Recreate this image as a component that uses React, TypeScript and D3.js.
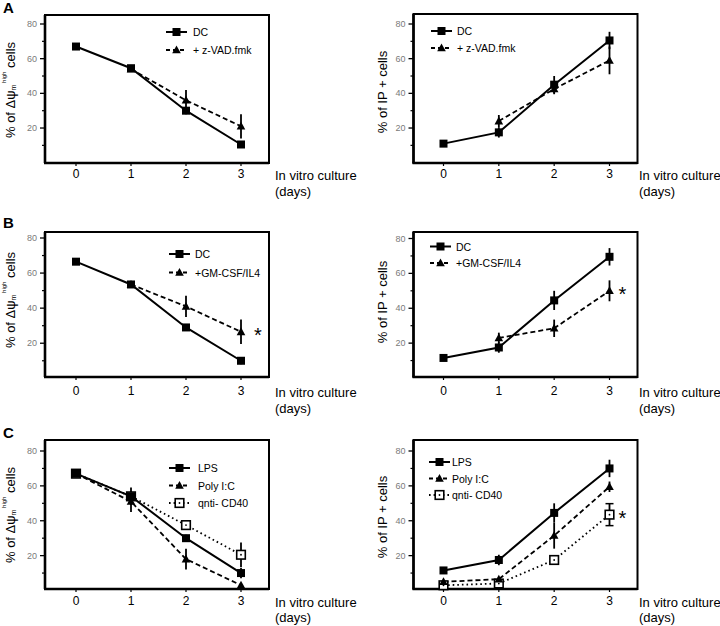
import React from "react";
import * as d3 from "d3";

// ---------- data ----------
const days = [0, 1, 2, 3];
const xTickLabels = ["0", "1", "2", "3"];
const yTicks = [20, 40, 60, 80];
const yMinorTicks = [10, 30, 50, 70];

// Panel A (mitochondrial potential / IP+)
const aMmpDC = [67, 54.5, 30, 10.5];
const aMmpDCErr = [1, 1.5, 2, 2];
const aMmpZvad = [NaN, 54, 36, 21];
const aMmpZvadErr = [0, 0, 6, 7];
const aIpDC = [11, 17.5, 45, 70.5];
const aIpDCErr = [1, 3, 5, 5];
const aIpZvad = [NaN, 24, 42.5, 59];
const aIpZvadErr = [0, 3.5, 3, 8];

// Panel B
const bMmpDC = [66.5, 53.5, 29, 10];
const bMmpDCErr = [1, 1.5, 1.5, 2];
const bMmpGM = [NaN, 53.5, 41, 26.5];
const bMmpGMErr = [0, 0, 6, 7];
const bIpDC = [11.5, 17.5, 44.5, 69.5];
const bIpDCErr = [1, 3, 5.5, 5];
const bIpGM = [NaN, 23, 28.5, 50];
const bIpGMErr = [0, 3, 5, 6];

// Panel C
const cMmpLPS = [67, 54, 30, 10];
const cMmpLPSErr = [1, 5, 2, 3];
const cMmpPoly = [67, 51, 18, 3];
const cMmpPolyErr = [0, 6, 6, 1];
const cMmpAnti = [67, 54, 37.5, 20.5];
const cMmpAntiErr = [0, 0, 2, 7];
const cIpLPS = [11.5, 17.5, 44.5, 70];
const cIpLPSErr = [1, 3, 5.5, 5];
const cIpPoly = [5, 6.5, 31.5, 59.5];
const cIpPolyErr = [1, 1, 7.5, 3];
const cIpAnti = [3, 4, 17.5, 43.5];
const cIpAntiErr = [1, 1, 2, 6.3];

const legendDC = "DC";
const legendZvad = "+ z-VAD.fmk";
const legendGM = "+GM-CSF/IL4";
const legendLPS = "LPS";
const legendPoly = "Poly I:C";
const legendAnti = "qnti- CD40";

// ---------- types ----------
type Series = {
  name: string;
  values: number[];
  errors: number[];
  style: "solid" | "dash" | "dot";
  marker: "square" | "triangle" | "open";
  caps?: boolean;
};

type Layout = {
  letter?: string;
  letterY?: number;
  l: number; r: number; t: number; b: number;
  x0: number; x3: number;
  yZero: number; y80: number;
  legX: number; legY: number; legDy: number; legTextX: number;
  ylabX: number; ylabY: number;
  ylabKind: "mmp" | "ip";
  tickY: number;
  titleX: number; titleY: number; title2Y: number;
  asterisk?: number; // index of series to mark at day 3
  asteriskDx?: number;
};

const FONT = "'Liberation Sans', Arial, sans-serif";

const dashFor = (s: Series["style"]) =>
  s === "solid" ? undefined : s === "dash" ? "5,3" : "1.6,3";

function Marker({ kind, x, y }: { kind: Series["marker"]; x: number; y: number }) {
  if (kind === "square") return <rect x={x - 4} y={y - 4} width={8} height={8} fill="#000" />;
  if (kind === "triangle")
    return <path d={`M${x},${y - 4.5}L${x + 4.3},${y + 3.3}L${x - 4.3},${y + 3.3}Z`} fill="#000" />;
  return (
    <g>
      <rect x={x - 4.3} y={y - 4.3} width={8.6} height={8.6} fill="#fff" stroke="#000" strokeWidth={1.6} />
      <circle cx={x} cy={y} r={0.9} fill="#000" />
    </g>
  );
}

function Panel({ L, series }: { L: Layout; series: Series[] }) {
  const x = d3.scaleLinear().domain([0, 3]).range([L.x0, L.x3]);
  const y = d3.scaleLinear().domain([0, 80]).range([L.yZero, L.y80]);
  const line = d3
    .line<number>()
    .defined((v) => !isNaN(v))
    .x((_, i) => x(days[i]))
    .y((v) => y(v));

  const ordered = [...series].map((s, i) => ({ s, i })).reverse();

  return (
    <g fontFamily={FONT}>
      {L.letter && (
        <text x={3} y={L.letterY} fontSize={15} fontWeight="bold">
          {L.letter}
        </text>
      )}
      {/* frame */}
      <rect x={L.l} y={L.t} width={L.r - L.l} height={L.b - L.t} fill="none" stroke="#000" strokeWidth={2} />
      <line x1={L.l} x2={L.l} y1={L.t} y2={L.b} stroke="#000" strokeWidth={2.6} />
      <line x1={L.l - 1} x2={L.r} y1={L.b} y2={L.b} stroke="#000" strokeWidth={2.6} />
      {/* y ticks */}
      {yTicks.map((v) => (
        <g key={v}>
          <line x1={L.l - 5} x2={L.l} y1={y(v)} y2={y(v)} stroke="#000" strokeWidth={1.3} />
          <text x={L.l - 8} y={y(v)} textAnchor="end" dominantBaseline="central" fontSize={9} fill="#7a7a7a">
            {v}
          </text>
        </g>
      ))}
      {yMinorTicks.map((v) => (
        <line key={v} x1={L.l - 3} x2={L.l} y1={y(v)} y2={y(v)} stroke="#000" strokeWidth={1.2} />
      ))}
      {/* x ticks */}
      {days.map((d, i) => (
        <g key={d}>
          <line x1={x(d)} x2={x(d)} y1={L.b} y2={L.b + 3} stroke="#000" strokeWidth={1.2} />
          <text x={x(d)} y={L.tickY} textAnchor="middle" dominantBaseline="central" fontSize={12}>
            {xTickLabels[i]}
          </text>
        </g>
      ))}
      <text x={L.titleX} y={L.titleY} fontSize={13}>In vitro culture</text>
      <text x={L.titleX} y={L.title2Y} fontSize={13}>(days)</text>
      {/* y label */}
      <text
        transform={`translate(${L.ylabX},${L.ylabY}) rotate(-90)`}
        textAnchor="middle"
        dominantBaseline="central"
        fontSize={13}
      >
        {L.ylabKind === "ip" ? (
          "% of IP + cells"
        ) : (
          <>
            {"% of \u0394\u03c8"}
            <tspan fontSize={7} dy={3}>m</tspan>
            <tspan fontSize={6} dy={-9}>{" high"}</tspan>
            <tspan dy={6}>{" cells"}</tspan>
          </>
        )}
      </text>
      {/* lines */}
      {ordered.map(({ s, i }) => (
        <path
          key={"l" + i}
          d={line(s.values) || ""}
          fill="none"
          stroke="#000"
          strokeWidth={s.style === "solid" ? 2 : 1.8}
          strokeDasharray={dashFor(s.style)}
        />
      ))}
      {/* error bars */}
      {ordered.map(({ s, i }) =>
        s.values.map((v, j) =>
          isNaN(v) || !s.errors[j] ? null : (
            <g key={"e" + i + "-" + j}>
              <line
                x1={x(days[j])}
                x2={x(days[j])}
                y1={y(v + s.errors[j])}
                y2={y(v - s.errors[j])}
                stroke="#000"
                strokeWidth={1.8}
              />
              {s.caps && (
                <>
                  <line x1={x(days[j]) - 4} x2={x(days[j]) + 4} y1={y(v + s.errors[j])} y2={y(v + s.errors[j])} stroke="#000" strokeWidth={1.5} />
                  <line x1={x(days[j]) - 4} x2={x(days[j]) + 4} y1={y(v - s.errors[j])} y2={y(v - s.errors[j])} stroke="#000" strokeWidth={1.5} />
                </>
              )}
            </g>
          )
        )
      )}
      {/* markers */}
      {ordered.map(({ s, i }) =>
        s.values.map((v, j) =>
          isNaN(v) ? null : <Marker key={"m" + i + "-" + j} kind={s.marker} x={x(days[j])} y={y(v)} />
        )
      )}
      {L.asterisk !== undefined && (
        <text
          x={x(3) + (L.asteriskDx || 14)}
          y={y(series[L.asterisk].values[3]) + 10}
          textAnchor="middle"
          fontSize={20}
        >
          *
        </text>
      )}
      {/* legend */}
      {series.map((s, i) => {
        const ly = L.legY + i * L.legDy;
        return (
          <g key={"lg" + i}>
            <line
              x1={L.legX}
              x2={L.legX + 21}
              y1={ly}
              y2={ly}
              stroke="#000"
              strokeWidth={s.style === "solid" ? 2 : 1.8}
              strokeDasharray={s.style === "solid" ? undefined : s.style === "dash" ? "4,3" : "1.6,3"}
            />
            <Marker kind={s.marker} x={L.legX + 10.5} y={ly} />
            <text x={L.legTextX} y={ly} dominantBaseline="central" fontSize={10.5}>
              {s.name}
            </text>
          </g>
        );
      })}
    </g>
  );
}

const leftBase = { l: 45, r: 269, x0: 76, x3: 241, ylabX: 10, titleX: 275 };
const rightBase = { l: 413.5, r: 637.5, x0: 443.5, x3: 609.5, ylabX: 382, titleX: 639 };

const layouts: Layout[] = [
  { ...leftBase, letter: "A", letterY: 13, t: 15, b: 163, yZero: 162.7, y80: 24, legX: 166, legY: 32, legDy: 18, legTextX: 193, ylabY: 90, ylabKind: "mmp", tickY: 174, titleY: 180, title2Y: 196 },
  { ...rightBase, t: 14, b: 163, yZero: 162.7, y80: 24, legX: 431, legY: 31, legDy: 17, legTextX: 457, ylabY: 92, ylabKind: "ip", tickY: 174, titleY: 180, title2Y: 196 },
  { ...leftBase, letter: "B", letterY: 228, t: 232, b: 377, yZero: 378.3, y80: 238, legX: 169, legY: 254, legDy: 18.5, legTextX: 195, ylabY: 300, ylabKind: "mmp", tickY: 391, titleY: 397, title2Y: 413, asterisk: 1, asteriskDx: 17 },
  { ...rightBase, t: 232, b: 377, yZero: 378, y80: 238.5, legX: 430, legY: 246.5, legDy: 16.5, legTextX: 456, ylabY: 302, ylabKind: "ip", tickY: 391, titleY: 397, title2Y: 413, asterisk: 1, asteriskDx: 13 },
  { ...leftBase, letter: "C", letterY: 438, t: 440, b: 589, yZero: 590.5, y80: 451, legX: 169, legY: 468, legDy: 17.5, legTextX: 198, ylabY: 515, ylabKind: "mmp", tickY: 601, titleY: 607, title2Y: 622 },
  { ...rightBase, t: 440, b: 589, yZero: 590.5, y80: 451, legX: 429, legY: 462, legDy: 16.5, legTextX: 452, ylabY: 517, ylabKind: "ip", tickY: 601, titleY: 607, title2Y: 622, asterisk: 2, asteriskDx: 13 },
];

const panelSeries: Series[][] = [
  [
    { name: legendDC, values: aMmpDC, errors: aMmpDCErr, style: "solid", marker: "square" },
    { name: legendZvad, values: aMmpZvad, errors: aMmpZvadErr, style: "dash", marker: "triangle" },
  ],
  [
    { name: legendDC, values: aIpDC, errors: aIpDCErr, style: "solid", marker: "square" },
    { name: legendZvad, values: aIpZvad, errors: aIpZvadErr, style: "dash", marker: "triangle" },
  ],
  [
    { name: legendDC, values: bMmpDC, errors: bMmpDCErr, style: "solid", marker: "square" },
    { name: legendGM, values: bMmpGM, errors: bMmpGMErr, style: "dash", marker: "triangle" },
  ],
  [
    { name: legendDC, values: bIpDC, errors: bIpDCErr, style: "solid", marker: "square" },
    { name: legendGM, values: bIpGM, errors: bIpGMErr, style: "dash", marker: "triangle" },
  ],
  [
    { name: legendLPS, values: cMmpLPS, errors: cMmpLPSErr, style: "solid", marker: "square" },
    { name: legendPoly, values: cMmpPoly, errors: cMmpPolyErr, style: "dash", marker: "triangle" },
    { name: legendAnti, values: cMmpAnti, errors: cMmpAntiErr, style: "dot", marker: "open" },
  ],
  [
    { name: legendLPS, values: cIpLPS, errors: cIpLPSErr, style: "solid", marker: "square" },
    { name: legendPoly, values: cIpPoly, errors: cIpPolyErr, style: "dash", marker: "triangle" },
    { name: legendAnti, values: cIpAnti, errors: cIpAntiErr, style: "dot", marker: "open", caps: true },
  ],
];

export default function App() {
  return (
    <svg
      width={720}
      height={626}
      viewBox="0 0 720 626"
      style={{ position: "absolute", left: 0, top: 0, background: "#fff" }}
    >
      <rect width={720} height={626} fill="#fff" />
      {layouts.map((L, i) => (
        <Panel key={i} L={L} series={panelSeries[i]} />
      ))}
    </svg>
  );
}
